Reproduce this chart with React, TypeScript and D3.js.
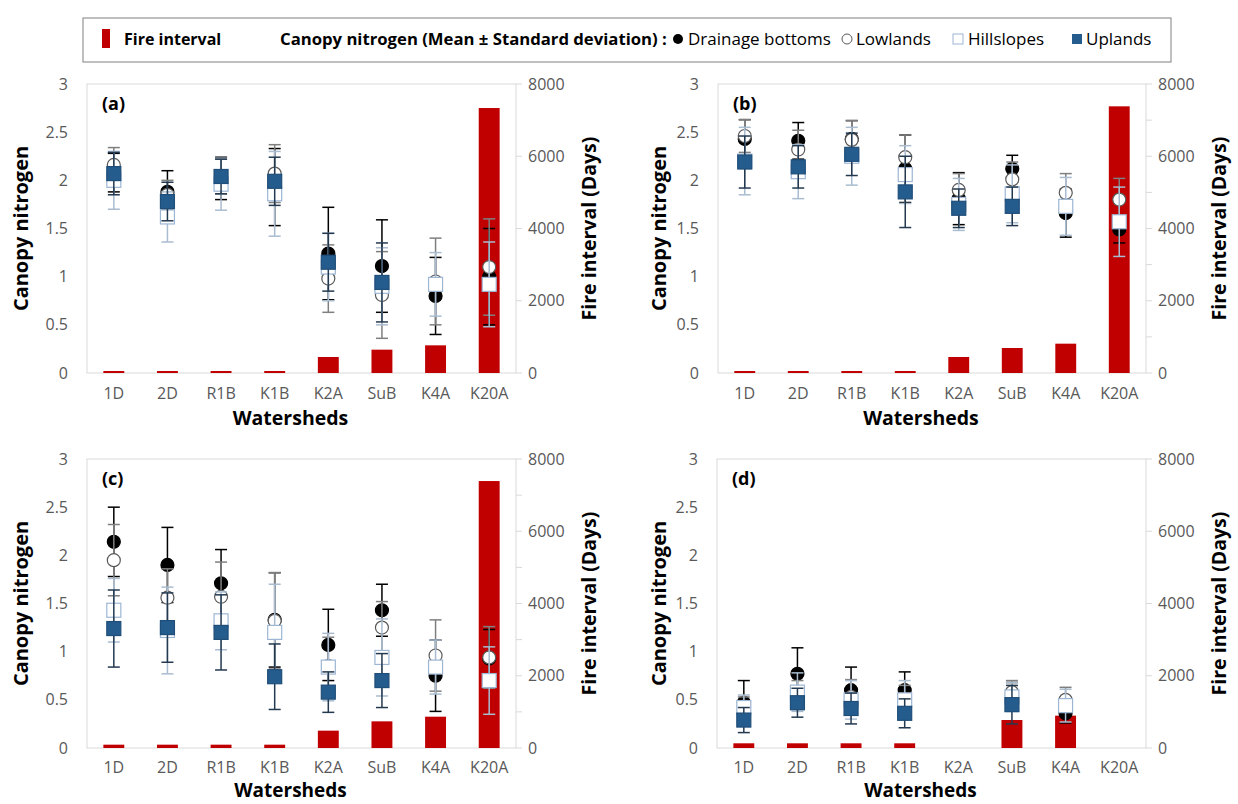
import React from 'react';
import * as d3 from 'd3';

const watersheds = ['1D', '2D', 'R1B', 'K1B', 'K2A', 'SuB', 'K4A', 'K20A'];
const nitrogenTicks = [0, 0.5, 1, 1.5, 2, 2.5, 3];
const fireTicks = [0, 2000, 4000, 6000, 8000];
const fireMinorTicks = [1000, 3000, 5000, 7000];

type V = number | null;

// Fire interval (days)
const fireA: V[] = [55, 55, 55, 55, 443, 646, 766, 7335];
const fireB: V[] = [55, 55, 55, 55, 443, 692, 812, 7382];
const fireC: V[] = [92, 92, 92, 92, 480, 738, 867, 7390];
const fireD: V[] = [130, 130, 130, 130, null, 775, 895, null];

// Panel (a) canopy nitrogen mean / sd
const drainA: V[] = [2.08, 1.88, 2.02, 1.93, 1.24, 1.11, 0.8, 1.0];
const drainSdA: V[] = [0.2, 0.22, 0.22, 0.4, 0.48, 0.48, 0.4, 0.5];
const lowA: V[] = [2.16, 1.85, 2.04, 2.07, 0.98, 0.81, 0.95, 1.1];
const lowSdA: V[] = [0.18, 0.15, 0.18, 0.3, 0.35, 0.45, 0.45, 0.5];
const hillA: V[] = [2.0, 1.62, 1.96, 1.86, 1.1, 0.9, 0.92, 0.92];
const hillSdA: V[] = [0.3, 0.26, 0.27, 0.44, 0.35, 0.4, 0.33, 0.44];
const upA: V[] = [2.07, 1.78, 2.04, 1.99, 1.15, 0.94, null, null];
const upSdA: V[] = [0.22, 0.2, 0.18, 0.25, 0.3, 0.41, null, null];

// Panel (b)
const drainB: V[] = [2.43, 2.41, 2.43, 2.12, 1.81, 2.12, 1.66, 1.49];
const drainSdB: V[] = [0.2, 0.19, 0.19, 0.35, 0.27, 0.14, 0.25, 0.14];
const lowB: V[] = [2.46, 2.32, 2.42, 2.24, 1.9, 2.01, 1.87, 1.8];
const lowSdB: V[] = [0.17, 0.2, 0.2, 0.23, 0.17, 0.18, 0.2, 0.22];
const hillB: V[] = [2.2, 2.09, 2.25, 2.06, 1.75, 1.86, 1.73, 1.57];
const hillSdB: V[] = [0.35, 0.28, 0.3, 0.3, 0.27, 0.3, 0.3, 0.36];
const upB: V[] = [2.19, 2.14, 2.27, 1.88, 1.71, 1.73, null, null];
const upSdB: V[] = [0.27, 0.22, 0.22, 0.37, 0.2, 0.2, null, null];

// Panel (c)
const drainC: V[] = [2.14, 1.9, 1.71, 1.33, 1.07, 1.43, 0.75, 0.93];
const drainSdC: V[] = [0.36, 0.39, 0.35, 0.49, 0.37, 0.27, 0.37, 0.3];
const lowC: V[] = [1.95, 1.56, 1.57, 1.32, 0.85, 1.25, 0.96, 0.94];
const lowSdC: V[] = [0.37, 0.3, 0.36, 0.5, 0.3, 0.27, 0.37, 0.32];
const hillC: V[] = [1.43, 1.22, 1.32, 1.2, 0.84, 0.94, 0.84, 0.7];
const hillSdC: V[] = [0.33, 0.45, 0.3, 0.5, 0.35, 0.4, 0.28, 0.35];
const upC: V[] = [1.24, 1.25, 1.2, 0.74, 0.58, 0.7, null, null];
const upSdC: V[] = [0.4, 0.36, 0.39, 0.34, 0.21, 0.28, null, null];

// Panel (d)
const drainD: V[] = [0.47, 0.77, 0.6, 0.6, null, 0.55, 0.36, null];
const drainSdD: V[] = [0.23, 0.27, 0.24, 0.19, null, 0.13, 0.1, null];
const lowD: V[] = [0.43, 0.55, 0.53, 0.5, null, 0.58, 0.5, null];
const lowSdD: V[] = [0.1, 0.15, 0.18, 0.15, null, 0.12, 0.13, null];
const hillD: V[] = [0.42, 0.58, 0.5, 0.5, null, 0.53, 0.44, null];
const hillSdD: V[] = [0.13, 0.2, 0.2, 0.2, null, 0.15, 0.17, null];
const upD: V[] = [0.29, 0.47, 0.41, 0.36, null, 0.45, null, null];
const upSdD: V[] = [0.13, 0.15, 0.16, 0.15, null, 0.2, null, null];

const FONT = "'Open Sans', 'DejaVu Sans', sans-serif";
const GRID = '#d9d9d9';
const LABEL = '#595959';
const RED = '#c00000';

const seriesStyle = [
  { name: 'Drainage bottoms', shape: 'circle', fill: '#000000', stroke: '#000000', err: '#000000' },
  { name: 'Lowlands', shape: 'circle', fill: '#ffffff', stroke: '#595959', err: '#7f7f7f' },
  { name: 'Hillslopes', shape: 'square', fill: '#ffffff', stroke: '#9db6d4', err: '#a9bcd0' },
  { name: 'Uplands', shape: 'square', fill: '#255c8e', stroke: '#1f4e79', err: '#23394f' },
];

const panels = [
  { label: '(a)', x0: 87, x1: 516, y0: 84, y1: 373, titleX: 21, xTickDy: 20, xTitleDy: 45, xTitleFs: 19.5, minor: false, fire: fireA,
    series: [[drainA, drainSdA], [lowA, lowSdA], [hillA, hillSdA], [upA, upSdA]] },
  { label: '(b)', x0: 718, x1: 1146, y0: 84, y1: 373, titleX: 659, xTickDy: 20, xTitleDy: 45, xTitleFs: 19.5, minor: true, fire: fireB,
    series: [[drainB, drainSdB], [lowB, lowSdB], [hillB, hillSdB], [upB, upSdB]] },
  { label: '(c)', x0: 87, x1: 516, y0: 459, y1: 748, titleX: 21, xTickDy: 19, xTitleDy: 42, xTitleFs: 19, minor: true, fire: fireC,
    series: [[drainC, drainSdC], [lowC, lowSdC], [hillC, hillSdC], [upC, upSdC]] },
  { label: '(d)', x0: 717, x1: 1146, y0: 459, y1: 748, titleX: 659, xTickDy: 19, xTitleDy: 42, xTitleFs: 19, minor: false, fire: fireD,
    series: [[drainD, drainSdD], [lowD, lowSdD], [hillD, hillSdD], [upD, upSdD]] },
];

function Marker({ shape, cx, cy, fill, stroke }: any) {
  if (shape === 'circle') {
    return <circle cx={cx} cy={cy} r={6.5} fill={fill} stroke={stroke} strokeWidth={1.2} />;
  }
  return <rect x={cx - 7} y={cy - 7} width={14} height={14} fill={fill} stroke={stroke} strokeWidth={1.2} />;
}

function Panel({ p }: any) {
  const x = d3.scaleBand<string>().domain(watersheds).range([p.x0, p.x1]);
  const y = d3.scaleLinear().domain([0, 3]).range([p.y1, p.y0]);
  const yr = d3.scaleLinear().domain([0, 8000]).range([p.y1, p.y0]);
  const bw = x.bandwidth() * 0.39;
  const cx = (w: string) => (x(w) as number) + x.bandwidth() / 2;
  const cap = 6;
  const midY = (p.y0 + p.y1) / 2;
  return (
    <g>
      <rect x={p.x0} y={p.y0} width={p.x1 - p.x0} height={p.y1 - p.y0} fill="none" stroke={GRID} strokeWidth={1} />
      {p.fire.map((v: V, i: number) =>
        v == null ? null : (
          <rect key={'b' + i} x={cx(watersheds[i]) - bw / 2} y={yr(v)} width={bw} height={p.y1 - yr(v)} fill={RED} />
        )
      )}
      {p.series.map((s: any, si: number) => {
        const st = seriesStyle[si];
        const [m, sd] = s;
        return (
          <g key={'s' + si}>
            {m.map((v: V, i: number) => {
              if (v == null) return null;
              const xc = cx(watersheds[i]);
              const e = sd[i] ?? 0;
              const yt = y(v + e), yb = y(v - e);
              return (
                <g key={i}>
                  <line x1={xc} x2={xc} y1={yt} y2={yb} stroke={st.err} strokeWidth={1.5} />
                  <line x1={xc - cap} x2={xc + cap} y1={yt} y2={yt} stroke={st.err} strokeWidth={1.5} />
                  <line x1={xc - cap} x2={xc + cap} y1={yb} y2={yb} stroke={st.err} strokeWidth={1.5} />
                  <Marker shape={st.shape} cx={xc} cy={y(v)} fill={st.fill} stroke={st.stroke} />
                </g>
              );
            })}
          </g>
        );
      })}
      {nitrogenTicks.map((t) => (
        <text key={'l' + t} x={p.x0 - 19} y={y(t)} dy="0.35em" textAnchor="end" fontSize={16} fill={LABEL} fontFamily={FONT}>
          {t}
        </text>
      ))}
      {fireTicks.map((t) => (
        <g key={'r' + t}>
          <line x1={p.x1} x2={p.x1 + 6} y1={yr(t)} y2={yr(t)} stroke={GRID} />
          <text x={p.x1 + 12} y={yr(t)} dy="0.35em" fontSize={16} fill={LABEL} fontFamily={FONT}>
            {t}
          </text>
        </g>
      ))}
      {p.minor &&
        fireMinorTicks.map((t) => (
          <line key={'m' + t} x1={p.x1} x2={p.x1 + 6} y1={yr(t)} y2={yr(t)} stroke={GRID} />
        ))}
      {watersheds.map((w) => (
        <text key={'x' + w} x={cx(w)} y={p.y1 + p.xTickDy} dy="0.35em" textAnchor="middle" fontSize={16} fill={LABEL} fontFamily={FONT}>
          {w}
        </text>
      ))}
      <text x={p.x0 + 15} y={p.y0 + 26} fontSize={18} fontWeight="bold" fill="#000" fontFamily={FONT}>
        {p.label}
      </text>
      <text
        transform={`translate(${p.titleX},${midY}) rotate(-90)`}
        textAnchor="middle"
        dy="0.35em"
        fontSize={20}
        fontWeight="bold"
        fontFamily={FONT}
        fill="#000"
      >
        Canopy nitrogen
      </text>
      <text
        transform={`translate(${p.x1 + 73},${midY}) rotate(-90)`}
        textAnchor="middle"
        dy="0.35em"
        fontSize={19.5}
        fontWeight="bold"
        fontFamily={FONT}
        fill="#000"
      >
        Fire interval (Days)
      </text>
      <text x={(p.x0 + p.x1) / 2 - 11} y={p.y1 + p.xTitleDy} dy="0.35em" textAnchor="middle" fontSize={p.xTitleFs} fontWeight="bold" fontFamily={FONT} fill="#000">
        Watersheds
      </text>
    </g>
  );
}

function Legend() {
  const cy = 39;
  return (
    <g fontFamily={FONT} fill="#000">
      <rect x={83} y={18} width={1088} height={44} fill="#fff" stroke="#808080" strokeWidth={1} />
      <rect x={102} y={29} width={8} height={19} fill={RED} />
      <text x={124} y={cy} dy="0.35em" fontWeight="bold" fontSize={16}>Fire interval</text>
      <text x={280} y={cy} dy="0.35em" fontWeight="bold" fontSize={16.7}>Canopy nitrogen (Mean ± Standard deviation) :</text>
      <circle cx={678} cy={cy} r={5} fill="#000" />
      <text x={688} y={cy} dy="0.35em" fontSize={17}>Drainage bottoms</text>
      <circle cx={847} cy={cy} r={5} fill="#fff" stroke="#595959" />
      <text x={856} y={cy} dy="0.35em" fontSize={17}>Lowlands</text>
      <rect x={953} y={cy - 5} width={10} height={10} fill="#fff" stroke="#9db6d4" />
      <text x={968} y={cy} dy="0.35em" fontSize={17}>Hillslopes</text>
      <rect x={1072} y={cy - 5} width={10} height={10} fill="#255c8e" />
      <text x={1086} y={cy} dy="0.35em" fontSize={17}>Uplands</text>
    </g>
  );
}

export default function App() {
  return (
    <svg
      width={1238}
      height={804}
      style={{ position: 'absolute', left: 0, top: 0, background: '#fff' }}
      xmlns="http://www.w3.org/2000/svg"
    >
      <rect width={1238} height={804} fill="#fff" />
      <Legend />
      {panels.map((p) => (
        <Panel key={p.label} p={p} />
      ))}
    </svg>
  );
}
